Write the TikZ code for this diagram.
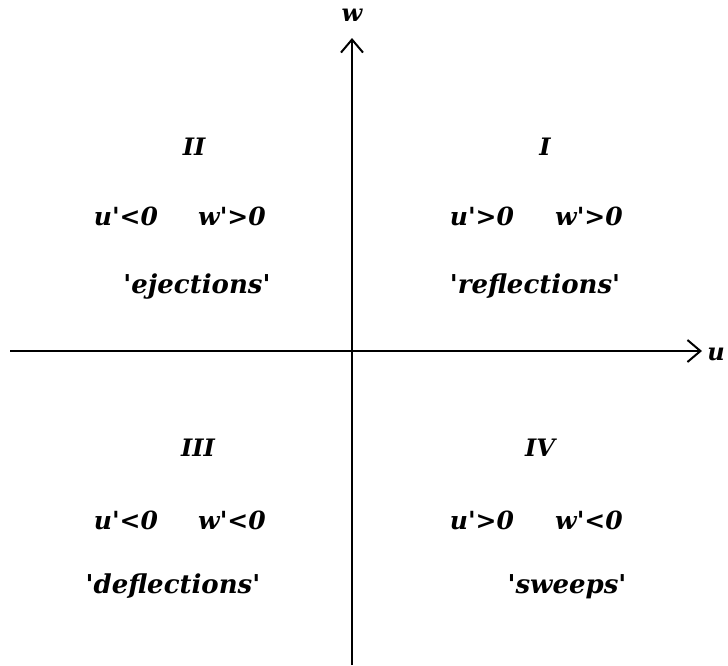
\documentclass[tikz,border=0pt]{standalone}
\usepackage{fontspec}
\newfontfamily\dvr{DejaVu Serif}
\usetikzlibrary{arrows.meta}
\tikzset{
  base/.style={inner sep=0pt, anchor=base},
  lbl/.style={base, font=\fontsize{25}{27}\selectfont\dvr\bfseries\itshape},
  phrase/.style={base, font=\fontsize{26}{28}\selectfont\dvr\bfseries\itshape},
  quad/.style={base, font=\fontsize{24}{26}\selectfont\dvr\bfseries\itshape},
  axis/.style={line width=1.2pt, -{Straight Barb[length=13pt,width=22pt,line width=2pt]}},
}
\begin{document}
\begin{tikzpicture}[x=1pt,y=-1pt]
\useasboundingbox (0,0) rectangle (728,665);
\coordinate (vb) at (352,665);
\coordinate (vt) at (352,38);
\coordinate (hl) at (10,351);
\coordinate (hr) at (702,351);
\draw[axis] (vb) -- (vt);
\draw[axis] (hl) -- (hr);
\node[quad] (wl) at (352,21) {w};
\node[quad] (ul) at (716,360) {u};
% quadrant II
\node[quad] (q2) at (194,155) {II};
\node[lbl] (q2u) at (126,225) {u'<0};
\node[lbl] (q2w) at (232,225) {w'>0};
\node[phrase] (q2t) at (197,293) {'ejections'};
% quadrant I
\node[quad] (q1) at (545,155) {I};
\node[lbl] (q1u) at (482,225) {u'>0};
\node[lbl] (q1w) at (589,225) {w'>0};
\node[phrase] (q1t) at (535,293) {'reflections'};
% quadrant III
\node[quad] (q3) at (198,456) {III};
\node[lbl] (q3u) at (126,529) {u'<0};
\node[lbl] (q3w) at (232,529) {w'<0};
\node[phrase] (q3t) at (173,593) {'deflections'};
% quadrant IV
\node[quad] (q4) at (540,456) {IV};
\node[lbl] (q4u) at (482,529) {u'>0};
\node[lbl] (q4w) at (589,529) {w'<0};
\node[phrase] (q4t) at (567,593) {'sweeps'};
\end{tikzpicture}
\end{document}
